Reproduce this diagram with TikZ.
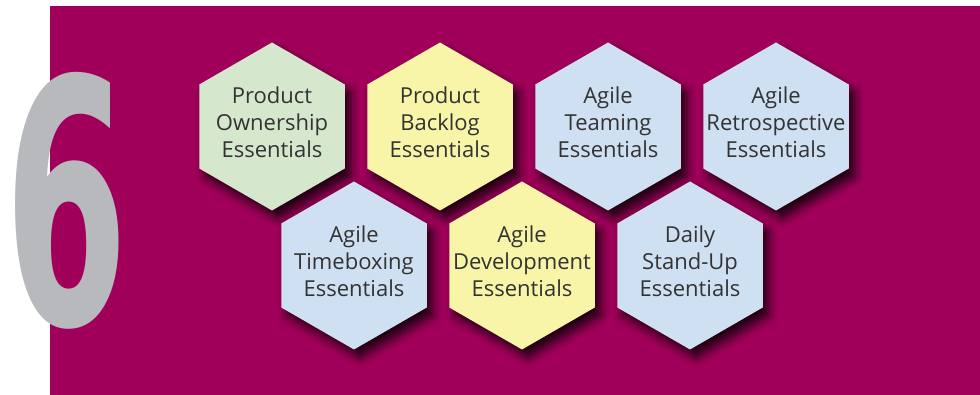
\documentclass[tikz,border=0pt]{standalone}
\usepackage{fontspec}
\setmainfont{Open Sans}
\newfontfamily\sixfont{DejaVu Sans}
\usetikzlibrary{shapes.geometric,shadows.blur}
\definecolor{bgmag}{HTML}{A0005A}
\definecolor{hexgreen}{HTML}{D5E8CE}
\definecolor{hexyellow}{HTML}{F8F4A8}
\definecolor{hexblue}{HTML}{CFE0F2}
\definecolor{sixgrey}{HTML}{B8B9BD}
\definecolor{txtgrey}{HTML}{333333}
\tikzset{
  hexbox/.style={regular polygon, regular polygon sides=6, shape border rotate=30,
    minimum size=168pt, inner sep=0pt, draw=none,
    blur shadow={shadow xshift=6pt, shadow yshift=-8pt, shadow blur radius=9pt, shadow opacity=80}},
  lbl/.style={align=center, text=txtgrey, font=\fontsize{22}{27}\selectfont, inner sep=0pt, yshift=4pt},
}
\begin{document}
\begin{tikzpicture}[x=1pt,y=1pt]
\useasboundingbox (0,0) rectangle (980,395);
\fill[white] (0,0) rectangle (980,395);
\fill[bgmag] (50,0) rectangle (980,389);
\node[inner sep=0pt, anchor=south, text=sixgrey] (six) at (67,65)
  {\resizebox{124pt}{252pt}{\sixfont\bfseries 6}};
% top row
\node[hexbox, fill=hexgreen, label={[lbl]center:Product\\Ownership\\Essentials}] (po) at (272,268.5) {};
\node[hexbox, fill=hexyellow, label={[lbl]center:Product\\Backlog\\Essentials}] (pb) at (440,268.5) {};
\node[hexbox, fill=hexblue, label={[lbl]center:Agile\\Teaming\\Essentials}] (at) at (608,268.5) {};
\node[hexbox, fill=hexblue, label={[lbl]center:Agile\\Retrospective\\Essentials}] (ar) at (776,268.5) {};
% bottom row
\node[hexbox, fill=hexblue, label={[lbl]center:Agile\\Timeboxing\\Essentials}] (tb) at (354,129.5) {};
\node[hexbox, fill=hexyellow, label={[lbl]center:Agile\\Development\\Essentials}] (ad) at (522,129.5) {};
\node[hexbox, fill=hexblue, label={[lbl]center:Daily\\Stand-Up\\Essentials}] (ds) at (690,129.5) {};
\end{tikzpicture}
\end{document}
